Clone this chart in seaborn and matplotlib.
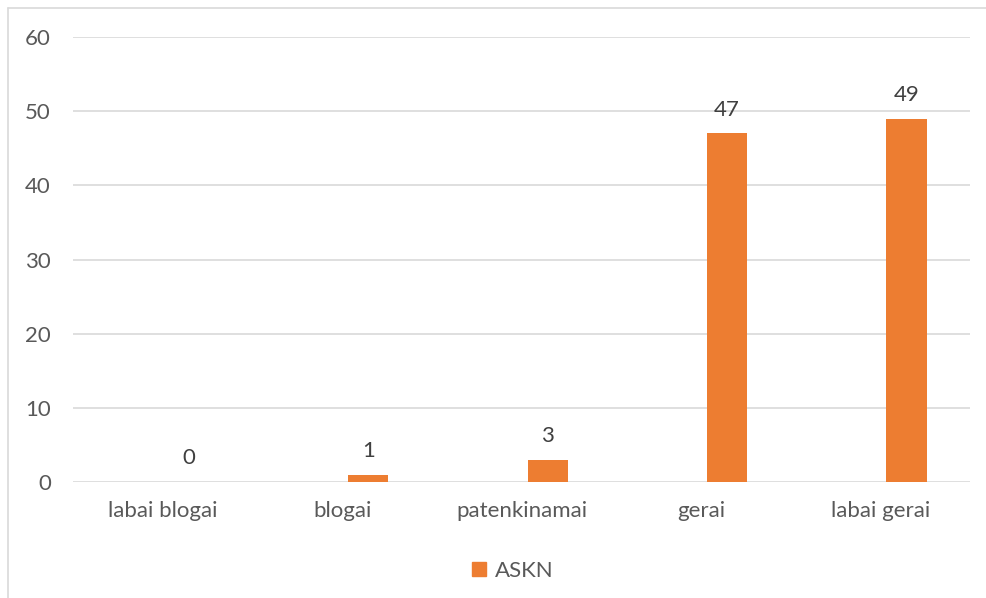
import pandas as pd
import matplotlib.pyplot as plt
import seaborn as sns
from matplotlib.lines import Line2D
from matplotlib.patches import Patch

# Data
categories = ["labai blogai", "blogai", "patenkinamai", "gerai", "labai gerai"]
askn_values = [0, 1, 3, 47, 49]
series_name = "ASKN"

# Excel keeps an empty slot before the series, so the bars sit right of centre
df = pd.concat([
    pd.DataFrame({"kat": categories, "val": [0] * len(categories), "serija": "_tuscia"}),
    pd.DataFrame({"kat": categories, "val": askn_values, "serija": series_name}),
])

sns.set_style("white")
plt.rcParams["font.family"] = ["Lato", "DejaVu Sans"]

fig = plt.figure(figsize=(9.87, 5.98), dpi=100)
ax = fig.add_axes([0.074, 0.194, 0.909, 0.744])

sns.barplot(data=df, x="kat", y="val", hue="serija", order=categories,
            hue_order=["_tuscia", series_name],
            palette={"_tuscia": "white", series_name: "#ED7D31"},
            saturation=1, width=0.58, gap=0.23, linewidth=0, ax=ax, legend=False)

ax.set_ylim(0, 60)
ax.set_yticks(range(0, 61, 10))
ax.set_xlim(-0.5, len(categories) - 0.5)
ax.yaxis.grid(True, color="#d9d9d9", linewidth=1.2)
ax.set_axisbelow(True)
for s in ax.spines.values():
    s.set_visible(False)
ax.set_xlabel("")
ax.set_ylabel("")
ax.tick_params(axis="y", length=0, pad=16, labelsize=16, labelcolor="#595959")
ax.tick_params(axis="x", length=0, pad=14, labelsize=16, labelcolor="#595959")

# value labels only for the real series
ax.bar_label(ax.containers[1], padding=10, fontsize=16, color="#404040")

ax.legend(handles=[Patch(color="#ED7D31", label=series_name)],
          loc="center", bbox_to_anchor=(0.49, -0.2), frameon=False,
          fontsize=16, labelcolor="#595959", handlelength=0.6, handleheight=0.6,
          handletextpad=0.4)

# chart area border (top and left visible)
fig.add_artist(Line2D([0.008, 0.008], [0, 0.987], color="#d9d9d9", lw=1.2))
fig.add_artist(Line2D([0.008, 1.0], [0.987, 0.987], color="#d9d9d9", lw=1.2))

fig.savefig("out.png", dpi=100, facecolor="white")
